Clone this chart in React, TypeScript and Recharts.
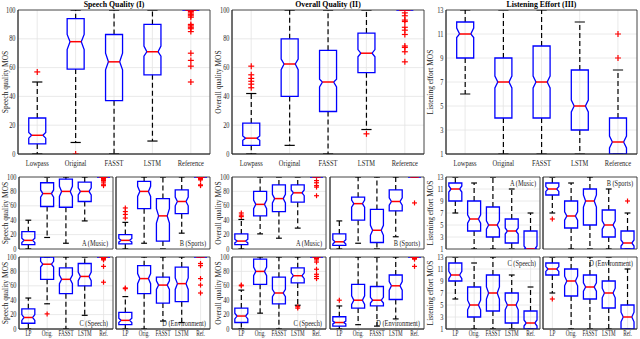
import React from "react";
import { ComposedChart, Bar, XAxis, YAxis, CartesianGrid, ReferenceArea } from "recharts";

const FONT = '"Liberation Serif","Times New Roman",Times,serif';
const AXIS = "#262626";

const bigCats = ["Lowpass", "Original", "FASST", "LSTM", "Reference"];
const smallCats = ["LP", "Orig.", "FASST", "LSTM", "Ref."];
const qualityTicks = [0, 20, 40, 60, 80, 100];
const effortTicks = [1, 3, 5, 7, 9, 11, 13];
const qualityDomain = [0, 100];
const effortDomain = [1, 13];

// [whiskerLow, q1, median, q3, whiskerHigh, notchLow, notchHigh]
const speechAll = [
  [0, 7, 13, 25, 50, 11, 15],
  [8, 59, 78, 94, 100, 72.5, 83],
  [0, 37, 64, 83, 100, 58.5, 70],
  [9, 55, 71, 90, 100, 68, 75],
  [100, 100, 100, 100, 100, 100, 100],
];
const speechAllOut = [[57], [0], [], [], [99, 98, 97, 96, 95, 90, 89, 88, 87, 85, 70, 65, 61, 50]];

const overallAll = [
  [0, 6, 11, 21.5, 42, 9.5, 12.5],
  [6, 40, 62.5, 80, 100, 58.5, 66],
  [0, 29.5, 50, 72, 100, 46.5, 52],
  [17, 56.5, 70, 84, 100, 67.5, 72.5],
  [100, 100, 100, 100, 100, 100, 100],
];
const overallAllOut = [[61, 55, 52.5, 50.5, 48.5, 46], [], [], [14], [98, 96, 93, 92, 88, 86, 83, 75, 74, 71, 64]];

const effortAll = [
  [6, 9, 11, 12, 13, 10.7, 11.5],
  [1, 4, 7, 9, 13, 6.5, 7.5],
  [1, 4, 7, 10, 13, 6.5, 7.5],
  [1, 3, 5, 8, 12, 4.5, 5.5],
  [1, 1, 2, 4, 8, 1.5, 2.5],
];
const effortAllOut = [[], [], [], [], [9, 11]];

const speechMusic = [
  [0, 6, 12, 24, 40, 9, 15],
  [16, 59, 77, 92, 100, 72, 82],
  [8, 58, 80, 97, 100, 73, 87],
  [39, 66, 80, 93, 100, 75, 85],
  [100, 100, 100, 100, 100, 100, 100],
];
const speechMusicOut = [[], [], [], [], [99, 98, 97, 96, 95, 93, 90, 88]];
const speechSports = [
  [0, 7, 12, 20, 37, 9.5, 14.5],
  [8, 56, 80, 94, 100, 73, 87],
  [0, 11, 46, 70, 100, 36, 56],
  [22, 49, 66, 82, 100, 60, 72],
  [100, 100, 100, 100, 100, 100, 100],
];
const speechSportsOut = [[57, 52, 48, 43], [], [], [], [99, 98, 97, 96, 89, 88]];
const speechSpeech = [
  [0, 8, 16, 28, 43, 12, 20],
  [35, 69, 90, 100, 100, 86, 94],
  [0, 49, 69, 85, 100, 63, 75],
  [19, 60, 73, 91, 100, 67, 79],
  [100, 100, 100, 100, 100, 100, 100],
];
const speechSpeechOut = [[], [21], [], [], [99, 98, 97, 96, 87, 65]];
const speechEnv = [
  [0, 6, 12, 23, 45, 9, 15],
  [0, 49, 70, 88, 100, 63, 77],
  [11, 36, 61, 72, 100, 55, 67],
  [9, 38, 63, 86, 100, 55, 71],
  [100, 100, 100, 100, 100, 100, 100],
];
const speechEnvOut = [[57, 56], [], [], [], [91, 88, 70, 61, 50]];

const overallMusic = [
  [0, 6, 11, 21, 41, 8.5, 13.5],
  [21, 46, 62, 80, 100, 56, 68],
  [15, 52, 70, 89, 100, 64, 76],
  [29, 65, 78, 89, 100, 74, 82],
  [100, 100, 100, 100, 100, 100, 100],
];
const overallMusicOut = [[50, 47, 45], [], [], [], [95, 92, 88, 86, 74]];
const overallSports = [
  [0, 5, 10, 21, 39, 7, 13],
  [8, 40, 63, 72, 100, 58, 68],
  [0, 9, 26, 55, 100, 19, 33],
  [17, 53, 66, 82, 100, 61, 71],
  [100, 100, 100, 100, 100, 100, 100],
];
const overallSportsOut = [[], [], [], [], [64]];
const overallSpeech = [
  [0, 9, 18, 29, 54, 14, 22],
  [22, 62, 80, 97, 100, 74, 86],
  [0, 35, 50, 72, 100, 45, 55],
  [33, 64, 74, 85, 100, 70, 78],
  [100, 100, 100, 100, 100, 100, 100],
];
const overallSpeechOut = [[61, 60], [], [], [31, 29], [98, 96, 93, 83, 76, 73, 70]];
const overallEnv = [
  [0, 4, 9, 17, 32, 7, 11],
  [6, 29, 40, 62, 100, 34, 46],
  [4, 32, 40, 59, 100, 36, 44],
  [14, 41, 60, 75, 100, 54, 66],
  [100, 100, 100, 100, 100, 100, 100],
];
const overallEnvOut = [[40], [], [], [], [99, 98, 97, 87]];

const effortMusic = [
  [7, 9, 11, 12, 13, 10.5, 11.5],
  [1, 4, 6, 9, 12, 5.3, 6.7],
  [1, 3, 5, 8, 13, 4.3, 5.7],
  [1, 2, 4, 6, 11, 3.5, 4.5],
  [1, 1, 1, 4, 7, 1, 1.5],
];
const effortMusicOut = [[], [], [], [], []];
const effortSports = [
  [7, 10, 11, 12, 13, 10.6, 11.4],
  [1, 4.5, 6.5, 9, 12, 5.8, 7.2],
  [1, 5, 9, 11, 13, 8, 10],
  [1, 3, 5, 7.5, 11, 4.3, 5.7],
  [1, 1, 2, 4, 7, 1.5, 2.5],
];
const effortSportsOut = [[6], [], [], [], [9]];
const effortSpeech = [
  [6, 9, 10, 12, 13, 9.4, 10.6],
  [1, 3, 5, 8, 12, 4.2, 5.8],
  [1, 4, 7, 10, 13, 6, 8],
  [1, 2, 5, 7, 10, 4.2, 5.8],
  [1, 1, 2, 4, 8, 1.5, 2.5],
];
const effortSpeechOut = [[], [], [], [], []];
const effortEnv = [
  [7, 10, 11, 12, 13, 10.6, 11.4],
  [1, 6.5, 9, 11, 13, 8.2, 9.8],
  [1, 6, 8, 10, 13, 7.3, 8.7],
  [1, 4.5, 7, 9, 13, 6.2, 7.8],
  [1, 1, 3, 5, 11, 2.2, 3.8],
];
const effortEnvOut = [[6], [], [], [], []];

function drawBox(p: any, capFrac: number, mark: number) {
  const { x, y, width, height, payload } = p;
  if (!payload || x == null || y == null) return <g />;
  const top = Math.min(y, y + height);
  const h = Math.abs(height);
  const [d0, d1] = payload.span;
  const py = (v: number) => top + ((d1 - v) / (d1 - d0)) * h;
  const cx = x + width / 2;
  const xl = x;
  const xr = x + width;
  const dn = width * 0.17;
  const cw = (width * capFrac) / 2;
  const { wl, q1, med, q3, wh, nl, nh, out } = payload;
  const path = `M${xl},${py(q3)} L${xr},${py(q3)} L${xr},${py(nh)} L${xr - dn},${py(med)} L${xr},${py(nl)} L${xr},${py(q1)} L${xl},${py(q1)} L${xl},${py(nl)} L${xl + dn},${py(med)} L${xl},${py(nh)} Z`;
  return (
    <g>
      {wh > q3 && <line x1={cx} x2={cx} y1={py(q3)} y2={py(wh)} stroke="#000" strokeWidth={1.2} strokeDasharray="5 3" />}
      {wl < q1 && <line x1={cx} x2={cx} y1={py(q1)} y2={py(wl)} stroke="#000" strokeWidth={1.2} strokeDasharray="5 3" />}
      <line x1={cx - cw} x2={cx + cw} y1={py(wh)} y2={py(wh)} stroke="#000" strokeWidth={1.2} />
      <line x1={cx - cw} x2={cx + cw} y1={py(wl)} y2={py(wl)} stroke="#000" strokeWidth={1.2} />
      <path d={path} fill="none" stroke="#0000ff" strokeWidth={1.3} />
      <line x1={xl + dn} x2={xr - dn} y1={py(med)} y2={py(med)} stroke="#ff0000" strokeWidth={1.5} />
      {(out as number[]).map((o, i) => (
        <g key={i}>
          <line x1={cx - mark} x2={cx + mark} y1={py(o)} y2={py(o)} stroke="#ff0000" strokeWidth={1.2} />
          <line x1={cx} x2={cx} y1={py(o) - mark} y2={py(o) + mark} stroke="#ff0000" strokeWidth={1.2} />
        </g>
      ))}
    </g>
  );
}

function makeTick(scale: number, dy: string) {
  return (props: any) => {
    const { x, y, payload, textAnchor } = props;
    return (
      <text
        transform={`translate(${x},${y}) scale(${scale},1)`}
        textAnchor={textAnchor}
        dy={dy}
        fontSize={7.2}
        fontFamily={FONT}
        fill={AXIS}
      >
        {payload.value}
      </text>
    );
  };
}

type PanelProps = {
  left: number; top: number; width: number; height: number;
  cats: string[]; stats: number[][]; outs: number[][];
  domain: number[]; ticks: number[];
  showX: boolean; showY: boolean; xTickMargin: number; xScale: number;
  gap: string; capFrac: number; mark: number;
};

function BoxPanel(props: PanelProps) {
  const { left, top, width, height, cats, stats, outs, domain, ticks, showX, showY, xTickMargin, xScale, gap, capFrac, mark } = props;
  const padL = 22, padR = 4, padT = 4;
  const padB = showX ? 14 : 4;
  const data = cats.map((name, i) => ({
    name,
    wl: stats[i][0], q1: stats[i][1], med: stats[i][2], q3: stats[i][3], wh: stats[i][4],
    nl: stats[i][5], nh: stats[i][6], out: outs[i], span: domain,
  }));
  return (
    <div style={{ position: "absolute", left: left - padL, top: top - padT }}>
      <ComposedChart
        width={width + padL + padR}
        height={height + padT + padB}
        data={data}
        margin={{ top: padT, right: padR, left: 0, bottom: showX ? 0 : padB }}
        barCategoryGap={gap}
        style={{ overflow: "visible" }}
      >
        <CartesianGrid stroke="#e4e4e4" strokeWidth={0.8} />
        <XAxis
          dataKey="name"
          interval={0}
          height={showX ? padB : 0}
          tick={showX ? makeTick(xScale, "0.71em") : false}
          tickLine={false}
          tickSize={0}
          tickMargin={xTickMargin}
          axisLine={{ stroke: AXIS, strokeWidth: 0.8 }}
        />
        <YAxis
          type="number"
          domain={domain}
          ticks={ticks}
          interval={0}
          width={padL}
          tick={showY ? makeTick(0.88, "0.355em") : false}
          tickLine={false}
          tickSize={0}
          tickMargin={2.5}
          axisLine={{ stroke: AXIS, strokeWidth: 0.8 }}
          allowDataOverflow
        />
        <ReferenceArea y1={domain[0]} y2={domain[1]} fill="none" stroke={AXIS} strokeWidth={0.8} />
        <Bar dataKey="span" isAnimationActive={false} shape={(p: any) => drawBox(p, capFrac, mark)} />
      </ComposedChart>
    </div>
  );
}

type GroupProps = {
  x1: number; x2: number;
  sets: { stats: number[][]; outs: number[][] }[];
  domain: number[]; ticks: number[];
};

function SmallGroup({ x1, x2, sets, domain, ticks }: GroupProps) {
  const common = { width: 94, height: 72, cats: smallCats, domain, ticks, xTickMargin: 1.5, xScale: 0.72, gap: "15%", capFrac: 0.45, mark: 2.5 };
  return (
    <>
      <BoxPanel {...common} left={x1} top={177} stats={sets[0].stats} outs={sets[0].outs} showX={false} showY={true} />
      <BoxPanel {...common} left={x2} top={177} stats={sets[1].stats} outs={sets[1].outs} showX={false} showY={false} />
      <BoxPanel {...common} left={x1} top={257} stats={sets[2].stats} outs={sets[2].outs} showX={true} showY={true} />
      <BoxPanel {...common} left={x2} top={257} stats={sets[3].stats} outs={sets[3].outs} showX={true} showY={false} />
    </>
  );
}

export default function App() {
  const big = { top: 10, height: 144, cats: bigCats, showX: true, showY: true, xTickMargin: 6.5, xScale: 0.9, gap: "28%", capFrac: 0.6, mark: 3 };
  const txt = { fontFamily: FONT, fontSize: 7.5, fill: AXIS };
  const ylab = (x: number, y: number, s: string) => (
    <text x={x} y={y} transform={`rotate(-90 ${x} ${y})`} textAnchor="middle" dominantBaseline="central" {...txt}>{s}</text>
  );
  const ann = (x: number, y: number, s: string) => (
    <text transform={`translate(${x},${y}) scale(0.85,1)`} textAnchor="end" {...txt}>{s}</text>
  );
  const title = (x: number, s: string) => (
    <text transform={`translate(${x},7) scale(0.92,1)`} textAnchor="middle" fontWeight="bold" fontFamily={FONT} fontSize={8.5} fill="#000">{s}</text>
  );
  return (
    <div style={{ position: "absolute", left: 0, top: 0, width: 640, height: 339, background: "#fff", overflow: "hidden" }}>
      <BoxPanel {...big} left={18} width={192} stats={speechAll} outs={speechAllOut} domain={qualityDomain} ticks={qualityTicks} />
      <BoxPanel {...big} left={232} width={192} stats={overallAll} outs={overallAllOut} domain={qualityDomain} ticks={qualityTicks} />
      <BoxPanel {...big} left={446} width={191} stats={effortAll} outs={effortAllOut} domain={effortDomain} ticks={effortTicks} />

      <SmallGroup x1={19} x2={116} domain={qualityDomain} ticks={qualityTicks}
        sets={[{ stats: speechMusic, outs: speechMusicOut }, { stats: speechSports, outs: speechSportsOut }, { stats: speechSpeech, outs: speechSpeechOut }, { stats: speechEnv, outs: speechEnvOut }]} />
      <SmallGroup x1={232} x2={330} domain={qualityDomain} ticks={qualityTicks}
        sets={[{ stats: overallMusic, outs: overallMusicOut }, { stats: overallSports, outs: overallSportsOut }, { stats: overallSpeech, outs: overallSpeechOut }, { stats: overallEnv, outs: overallEnvOut }]} />
      <SmallGroup x1={446} x2={543} domain={effortDomain} ticks={effortTicks}
        sets={[{ stats: effortMusic, outs: effortMusicOut }, { stats: effortSports, outs: effortSportsOut }, { stats: effortSpeech, outs: effortSpeechOut }, { stats: effortEnv, outs: effortEnvOut }]} />

      <svg width={640} height={339} style={{ position: "absolute", left: 0, top: 0, pointerEvents: "none" }}>
        {title(114, "Speech Quality (I)")}
        {title(328, "Overall Quality (II)")}
        {title(541.5, "Listening Effort (III)")}

        {ylab(5, 82, "Speech quality MOS")}
        {ylab(218, 82, "Overall quality MOS")}
        {ylab(430, 82, "Listening effort MOS")}
        {ylab(5, 213, "Speech quality MOS")}
        {ylab(5, 293, "Speech quality MOS")}
        {ylab(218, 213, "Overall quality MOS")}
        {ylab(218, 293, "Overall quality MOS")}
        {ylab(430, 213, "Listening effort MOS")}
        {ylab(430, 293, "Listening effort MOS")}

        {ann(108, 245.5, "A (Music)")}
        {ann(206, 245.5, "B (Sports)")}
        {ann(108, 325.5, "C (Speech)")}
        {ann(206, 325.5, "D (Environment)")}

        {ann(322, 245.5, "A (Music)")}
        {ann(420, 245.5, "B (Sports)")}
        {ann(322, 325.5, "C (Speech)")}
        {ann(420, 325.5, "D (Environment)")}

        {ann(536, 186, "A (Music)")}
        {ann(633, 186, "B (Sports)")}
        {ann(536, 266, "C (Speech)")}
        {ann(633, 266, "D (Environment)")}
      </svg>
    </div>
  );
}
